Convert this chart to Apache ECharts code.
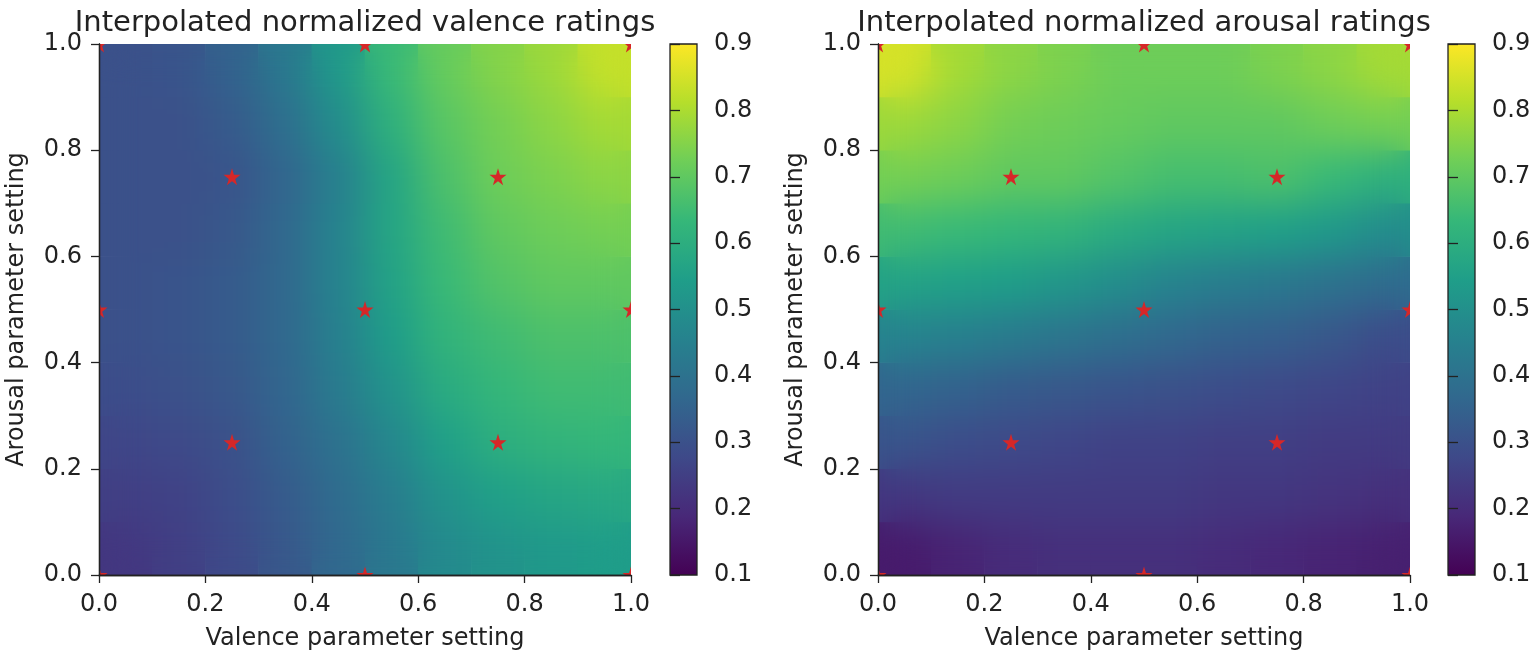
<!DOCTYPE html>
<html>
<head>
    <meta charset="utf-8"/>
    <title>Interpolated normalized ratings</title>
    <script src="https://cdn.jsdelivr.net/npm/echarts@6/dist/echarts.min.js"></script>
    <style>
        html, body { margin: 0; padding: 0; background: #fff; }
        #main { width: 1535px; height: 659px; }
    </style>
</head>
<body>
<div id="main"></div>
<script type="text/javascript">
    // cell centres of the interpolated grid (valence on x, arousal on y)
    var cellCenters = ['0.05', '0.15', '0.25', '0.35', '0.45', '0.55', '0.65', '0.75', '0.85', '0.95']

    // rows go from arousal 0.05 (bottom) up to 0.95 (top)
    var valenceRows = [
        [0.23, 0.25, 0.28, 0.32, 0.37, 0.42, 0.48, 0.51, 0.53, 0.54],
        [0.25, 0.26, 0.29, 0.33, 0.38, 0.44, 0.51, 0.55, 0.57, 0.58],
        [0.27, 0.28, 0.30, 0.35, 0.40, 0.47, 0.55, 0.60, 0.62, 0.63],
        [0.29, 0.30, 0.32, 0.36, 0.43, 0.51, 0.59, 0.63, 0.65, 0.65],
        [0.30, 0.31, 0.33, 0.37, 0.45, 0.54, 0.62, 0.65, 0.67, 0.67],
        [0.30, 0.31, 0.33, 0.37, 0.46, 0.56, 0.64, 0.68, 0.70, 0.70],
        [0.30, 0.30, 0.32, 0.37, 0.46, 0.57, 0.65, 0.70, 0.72, 0.73],
        [0.30, 0.30, 0.31, 0.36, 0.45, 0.57, 0.67, 0.72, 0.74, 0.76],
        [0.30, 0.30, 0.33, 0.39, 0.49, 0.61, 0.69, 0.73, 0.76, 0.79],
        [0.30, 0.31, 0.35, 0.42, 0.53, 0.64, 0.71, 0.75, 0.78, 0.83]
    ]
    var arousalRows = [
        [0.16, 0.18, 0.20, 0.21, 0.21, 0.21, 0.20, 0.19, 0.18, 0.17],
        [0.23, 0.24, 0.24, 0.24, 0.24, 0.24, 0.23, 0.23, 0.22, 0.21],
        [0.31, 0.29, 0.28, 0.27, 0.26, 0.26, 0.25, 0.25, 0.24, 0.24],
        [0.36, 0.35, 0.33, 0.32, 0.31, 0.30, 0.29, 0.28, 0.27, 0.26],
        [0.46, 0.45, 0.43, 0.41, 0.39, 0.37, 0.35, 0.34, 0.32, 0.29],
        [0.56, 0.55, 0.54, 0.52, 0.49, 0.46, 0.44, 0.42, 0.40, 0.38],
        [0.65, 0.64, 0.63, 0.62, 0.59, 0.57, 0.56, 0.55, 0.53, 0.49],
        [0.73, 0.72, 0.70, 0.70, 0.68, 0.66, 0.66, 0.67, 0.64, 0.61],
        [0.78, 0.76, 0.73, 0.72, 0.71, 0.70, 0.70, 0.70, 0.72, 0.73],
        [0.85, 0.79, 0.76, 0.74, 0.72, 0.72, 0.72, 0.74, 0.76, 0.79]
    ]

    // sampled parameter settings (red stars)
    var sampleValence = [0, 0.5, 1, 0.25, 0.75, 0, 0.5, 1, 0.25, 0.75, 0, 0.5, 1]
    var sampleArousal = [0, 0, 0, 0.25, 0.25, 0.5, 0.5, 0.5, 0.75, 0.75, 1, 1, 1]

    var titles = ['Interpolated normalized valence ratings', 'Interpolated normalized arousal ratings']
    var xName = 'Valence parameter setting'
    var yName = 'Arousal parameter setting'

    var viridis = ['#440154', '#482878', '#3e4989', '#31688e', '#26828e',
        '#1f9e89', '#35b779', '#6ece58', '#b5de2b', '#fde725']

    var FONT = "'DejaVu Sans', sans-serif"
    var INK = '#222'
    var W = 1535, H = 659
    var TOP = 44, SIZE_W = 532, SIZE_H = 531, CB_W = 27
    var FRONT = 2   // zlevel for frame, text, stars and colorbar
    var SOFT = 1    // zlevel of the softened copy of the cells

    function toCells(rows) {
        var out = []
        for (var j = 0; j < rows.length; j++) {
            for (var i = 0; i < rows[j].length; i++) {
                out.push([i, j, rows[j][i]])
            }
        }
        return out
    }

    function starPoints() {
        var pts = []
        for (var k = 0; k < sampleValence.length; k++) pts.push([sampleValence[k], sampleArousal[k]])
        return pts
    }

    var panels = [
        {left: 99, cbar: 670, rows: valenceRows, title: titles[0]},
        {left: 878, cbar: 1448, rows: arousalRows, title: titles[1]}
    ]

    var fmt1 = function (v) { return v.toFixed(1) }
    var labelStyle = {fontFamily: FONT, fontSize: 24, color: INK}
    var nameStyle = {fontFamily: FONT, fontSize: 24, color: INK}
    var lineStyle = {color: INK, width: 1.3}

    var option = {
        backgroundColor: '#fff',
        animation: false,
        title: [], grid: [], xAxis: [], yAxis: [], series: [], graphic: [],
        visualMap: {
            show: false, type: 'continuous', min: 0.1, max: 0.9,
            seriesIndex: [0, 1, 3, 4], inRange: {color: viridis}
        }
    }

    panels.forEach(function (p, n) {
        var g = option.grid.length
        option.title.push({
            text: p.title, left: p.left + SIZE_W / 2, top: 9, textAlign: 'center', padding: 0,
            zlevel: FRONT, z: 12,
            textStyle: {fontFamily: FONT, fontSize: 29, fontWeight: 'normal', color: INK}
        })
        option.grid.push({left: p.left, top: TOP, width: SIZE_W, height: SIZE_H})
        option.grid.push({left: p.left, top: TOP, width: SIZE_W, height: SIZE_H})
        option.grid.push({left: p.cbar, top: TOP, width: CB_W, height: SIZE_H})

        // heatmap axes (hidden)
        option.xAxis.push({gridIndex: g, type: 'category', data: cellCenters, show: false})
        option.yAxis.push({gridIndex: g, type: 'category', data: cellCenters, show: false})
        // visible value axes
        option.xAxis.push({
            gridIndex: g + 1, type: 'value', min: 0, max: 1, interval: 0.2, zlevel: FRONT, z: 10,
            axisLine: {lineStyle: lineStyle},
            axisTick: {inside: false, length: 8, lineStyle: lineStyle},
            axisLabel: Object.assign({formatter: fmt1, margin: 18}, labelStyle),
            splitLine: {show: false},
            name: xName, nameLocation: 'middle', nameGap: 52, nameTextStyle: nameStyle
        })
        option.xAxis.push({
            gridIndex: g + 1, type: 'value', min: 0, max: 1, position: 'top', zlevel: FRONT, z: 10,
            axisLine: {lineStyle: lineStyle},
            axisTick: {show: false}, axisLabel: {show: false}, splitLine: {show: false}
        })
        option.yAxis.push({
            gridIndex: g + 1, type: 'value', min: 0, max: 1, interval: 0.2, zlevel: FRONT, z: 10,
            axisLine: {lineStyle: lineStyle},
            axisTick: {inside: false, length: 8, lineStyle: lineStyle},
            axisLabel: Object.assign({formatter: fmt1, margin: 17}, labelStyle),
            splitLine: {show: false},
            name: yName, nameLocation: 'middle', nameGap: 70, nameTextStyle: nameStyle
        })
        option.yAxis.push({
            gridIndex: g + 1, type: 'value', min: 0, max: 1, position: 'right', zlevel: FRONT, z: 10,
            axisLine: {lineStyle: lineStyle},
            axisTick: {show: false}, axisLabel: {show: false}, splitLine: {show: false}
        })
        // colorbar axes
        option.xAxis.push({gridIndex: g + 2, type: 'value', show: false, min: 0, max: 1})
        option.yAxis.push({
            gridIndex: g + 2, type: 'value', min: 0.1, max: 0.9, interval: 0.1, position: 'right',
            zlevel: FRONT, z: 10,
            axisLine: {show: false},
            axisTick: {show: true, inside: false, length: 10, lineStyle: lineStyle},
            axisLabel: Object.assign({formatter: fmt1, margin: 17}, labelStyle),
            splitLine: {show: false}
        })

        var ax = n * 4
        var cells = toCells(p.rows)
        // sharp cells underneath, softened copy on its own layer above
        option.series.push({
            type: 'heatmap', xAxisIndex: ax, yAxisIndex: ax, zlevel: 0,
            data: cells, itemStyle: {borderWidth: 0}, progressive: 0
        })
        option.series.push({
            type: 'heatmap', xAxisIndex: ax, yAxisIndex: ax, zlevel: SOFT,
            data: cells, itemStyle: {borderWidth: 0}, progressive: 0
        })
        option.series.push({
            type: 'scatter', xAxisIndex: ax + 1, yAxisIndex: ax + 1, zlevel: FRONT, z: 0,
            data: starPoints(),
            symbol: 'path://M50,0 L61,35 L98,35 L68,57 L79,91 L50,70 L21,91 L32,57 L2,35 L39,35 Z',
            symbolSize: 17,
            itemStyle: {color: '#d62728', opacity: 1}
        })

        option.graphic.push({
            type: 'rect', zlevel: FRONT, z: 3, silent: true,
            shape: {x: p.cbar, y: TOP, width: CB_W, height: SIZE_H},
            style: {
                fill: new echarts.graphic.LinearGradient(0, 1, 0, 0, viridis.map(function (c, k) {
                    return {offset: k / (viridis.length - 1), color: c}
                })),
                stroke: INK, lineWidth: 1.3
            }
        })
    })

    // white surround: everything outside the two plot frames (cuts the edge stars too)
    var bottom = TOP + SIZE_H
    var masks = [
        [0, 0, W, TOP],
        [0, bottom, W, H - bottom],
        [0, TOP, panels[0].left, SIZE_H],
        [panels[0].left + SIZE_W, TOP, panels[1].left - panels[0].left - SIZE_W, SIZE_H],
        [panels[1].left + SIZE_W, TOP, W - panels[1].left - SIZE_W, SIZE_H]
    ]
    masks.forEach(function (m) {
        option.graphic.push({
            type: 'rect', zlevel: FRONT, z: 1, silent: true,
            shape: {x: m[0], y: m[1], width: m[2], height: m[3]},
            style: {fill: '#fff'}
        })
    })

    var myChart = echarts.init(document.getElementById('main'))
    myChart.setOption(option)

    // soften the cell edges of the upper copy, like the smooth interpolated image
    var softCanvas = null
    try {
        softCanvas = myChart.getZr().painter.getLayer(SOFT).dom
    } catch (e) {
        softCanvas = document.querySelector('#main canvas[data-zr-dom-id="zr_' + SOFT + '"]')
    }
    if (softCanvas) softCanvas.style.filter = 'blur(18px)'
</script>
</body>
</html>
